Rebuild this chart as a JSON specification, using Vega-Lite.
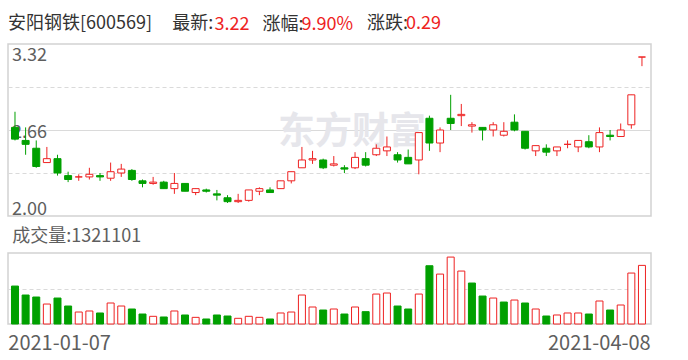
{
  "$schema": "https://vega.github.io/schema/vega-lite/v6.json",
  "background": "#ffffff",
  "padding": {"left": 7, "top": 14, "right": 0, "bottom": 0},
  "autosize": {"type": "pad"},
  "title": {"text": "0.29", "orient": "none", "anchor": "start", "dx": 398, "dy": -15, "baseline": "alphabetic", "fontSize": 18, "fontWeight": "normal", "font": "Noto Sans CJK SC", "color": "#ee2222"},
  "data": {"values": [
    {"d":"2021-01-07","o":2.68,"h":2.80,"l":2.58,"c":2.59,"v":855000},
    {"d":"2021-01-08","o":2.58,"h":2.68,"l":2.47,"c":2.55,"v":653000},
    {"d":"2021-01-11","o":2.52,"h":2.58,"l":2.37,"c":2.38,"v":608000},
    {"d":"2021-01-12","o":2.41,"h":2.53,"l":2.41,"c":2.44,"v":450000},
    {"d":"2021-01-13","o":2.44,"h":2.47,"l":2.31,"c":2.33,"v":585000},
    {"d":"2021-01-14","o":2.31,"h":2.34,"l":2.26,"c":2.28,"v":405000},
    {"d":"2021-01-15","o":2.30,"h":2.32,"l":2.27,"c":2.30,"v":270000},
    {"d":"2021-01-18","o":2.30,"h":2.37,"l":2.28,"c":2.32,"v":293000},
    {"d":"2021-01-19","o":2.31,"h":2.33,"l":2.27,"c":2.30,"v":248000},
    {"d":"2021-01-20","o":2.29,"h":2.41,"l":2.27,"c":2.34,"v":473000},
    {"d":"2021-01-21","o":2.33,"h":2.40,"l":2.30,"c":2.36,"v":405000},
    {"d":"2021-01-22","o":2.35,"h":2.36,"l":2.27,"c":2.28,"v":338000},
    {"d":"2021-01-25","o":2.27,"h":2.28,"l":2.22,"c":2.25,"v":225000},
    {"d":"2021-01-26","o":2.25,"h":2.30,"l":2.24,"c":2.26,"v":173000},
    {"d":"2021-01-27","o":2.26,"h":2.27,"l":2.21,"c":2.21,"v":158000},
    {"d":"2021-01-28","o":2.21,"h":2.33,"l":2.17,"c":2.25,"v":293000},
    {"d":"2021-01-29","o":2.25,"h":2.25,"l":2.19,"c":2.19,"v":203000},
    {"d":"2021-02-01","o":2.18,"h":2.21,"l":2.16,"c":2.21,"v":150000},
    {"d":"2021-02-02","o":2.20,"h":2.21,"l":2.18,"c":2.19,"v":113000},
    {"d":"2021-02-03","o":2.17,"h":2.20,"l":2.12,"c":2.16,"v":203000},
    {"d":"2021-02-04","o":2.14,"h":2.16,"l":2.10,"c":2.11,"v":180000},
    {"d":"2021-02-05","o":2.11,"h":2.17,"l":2.10,"c":2.12,"v":128000},
    {"d":"2021-02-08","o":2.12,"h":2.20,"l":2.11,"c":2.20,"v":173000},
    {"d":"2021-02-09","o":2.19,"h":2.22,"l":2.16,"c":2.21,"v":150000},
    {"d":"2021-02-10","o":2.20,"h":2.22,"l":2.18,"c":2.18,"v":113000},
    {"d":"2021-02-18","o":2.21,"h":2.27,"l":2.21,"c":2.27,"v":248000},
    {"d":"2021-02-19","o":2.27,"h":2.34,"l":2.25,"c":2.34,"v":270000},
    {"d":"2021-02-22","o":2.37,"h":2.53,"l":2.37,"c":2.43,"v":653000},
    {"d":"2021-02-23","o":2.43,"h":2.50,"l":2.40,"c":2.44,"v":383000},
    {"d":"2021-02-24","o":2.43,"h":2.44,"l":2.36,"c":2.37,"v":315000},
    {"d":"2021-02-25","o":2.39,"h":2.46,"l":2.38,"c":2.40,"v":338000},
    {"d":"2021-02-26","o":2.37,"h":2.39,"l":2.33,"c":2.36,"v":225000},
    {"d":"2021-03-01","o":2.37,"h":2.49,"l":2.36,"c":2.45,"v":383000},
    {"d":"2021-03-02","o":2.44,"h":2.49,"l":2.38,"c":2.39,"v":278000},
    {"d":"2021-03-03","o":2.47,"h":2.55,"l":2.46,"c":2.52,"v":675000},
    {"d":"2021-03-04","o":2.50,"h":2.61,"l":2.46,"c":2.53,"v":698000},
    {"d":"2021-03-05","o":2.47,"h":2.49,"l":2.41,"c":2.43,"v":405000},
    {"d":"2021-03-08","o":2.45,"h":2.51,"l":2.40,"c":2.40,"v":338000},
    {"d":"2021-03-09","o":2.43,"h":2.64,"l":2.32,"c":2.64,"v":675000},
    {"d":"2021-03-10","o":2.75,"h":2.77,"l":2.50,"c":2.56,"v":1313000},
    {"d":"2021-03-11","o":2.56,"h":2.68,"l":2.49,"c":2.66,"v":1125000},
    {"d":"2021-03-12","o":2.75,"h":2.93,"l":2.66,"c":2.71,"v":1508000},
    {"d":"2021-03-15","o":2.77,"h":2.86,"l":2.69,"c":2.78,"v":1193000},
    {"d":"2021-03-16","o":2.69,"h":2.72,"l":2.64,"c":2.70,"v":923000},
    {"d":"2021-03-17","o":2.68,"h":2.68,"l":2.58,"c":2.66,"v":630000},
    {"d":"2021-03-18","o":2.66,"h":2.72,"l":2.61,"c":2.70,"v":585000},
    {"d":"2021-03-19","o":2.62,"h":2.72,"l":2.61,"c":2.65,"v":495000},
    {"d":"2021-03-22","o":2.72,"h":2.78,"l":2.65,"c":2.66,"v":540000},
    {"d":"2021-03-23","o":2.65,"h":2.65,"l":2.51,"c":2.52,"v":473000},
    {"d":"2021-03-24","o":2.50,"h":2.54,"l":2.46,"c":2.54,"v":338000},
    {"d":"2021-03-25","o":2.52,"h":2.55,"l":2.46,"c":2.49,"v":180000},
    {"d":"2021-03-26","o":2.50,"h":2.53,"l":2.46,"c":2.53,"v":203000},
    {"d":"2021-03-29","o":2.55,"h":2.58,"l":2.52,"c":2.55,"v":248000},
    {"d":"2021-03-30","o":2.53,"h":2.58,"l":2.49,"c":2.58,"v":248000},
    {"d":"2021-03-31","o":2.57,"h":2.62,"l":2.52,"c":2.53,"v":225000},
    {"d":"2021-04-01","o":2.53,"h":2.68,"l":2.49,"c":2.64,"v":518000},
    {"d":"2021-04-02","o":2.62,"h":2.66,"l":2.58,"c":2.61,"v":315000},
    {"d":"2021-04-06","o":2.61,"h":2.71,"l":2.61,"c":2.66,"v":428000},
    {"d":"2021-04-07","o":2.70,"h":2.93,"l":2.67,"c":2.93,"v":1148000},
    {"d":"2021-04-08","o":3.22,"h":3.22,"l":3.15,"c":3.22,"v":1321101}
  ]},
  "spacing": 37,
  "bounds": "flush",
  "resolve": {"scale": {"x": "independent", "y": "independent"}},
  "vconcat": [
    {
      "width": 643,
      "height": 172,
      "title": {"text": "安阳钢铁[600569]\u00a0\u00a0\u00a0\u00a0\u00a0最新:", "orient": "none", "anchor": "start", "dx": 0, "dy": -15, "baseline": "alphabetic", "fontSize": 18, "fontWeight": "normal", "font": "Noto Sans CJK SC", "color": "#333333"},
      "encoding": {
        "x": {
          "field": "d", "type": "ordinal",
          "scale": {"type": "band", "paddingInner": 0, "paddingOuter": 0.254, "align": 0.31},
          "axis": {
            "orient": "top", "values": ["2021-03-01"], "labelExpr": "'东方财富'", "labelAngle": 0,
            "labelFontSize": 37, "labelFontWeight": "bold", "labelColor": "#e6e6eb", "labelFont": "Noto Sans CJK SC",
            "labelPadding": -88, "labelBaseline": "middle", "labelAlign": "center", "labelOffset": -3,
            "ticks": false, "tickSize": 0, "domain": false, "grid": false,
            "title": "3.22", "titleX": 206, "titleY": -15, "titleAlign": "left", "titleBaseline": "alphabetic", "titleAngle": 0,
            "titleColor": "#ee2222", "titleFontSize": 18, "titleFontWeight": "normal", "titleFont": "Noto Sans CJK SC"
          }
        }
      },
      "layer": [
        {
          "mark": {"type": "rule", "strokeWidth": 1},
          "encoding": {
            "y": {
              "field": "l", "type": "quantitative",
              "scale": {"domain": [2, 3.32], "nice": false, "zero": false},
              "axis": {
                "values": [2, 2.33, 2.66, 2.99, 3.32],
                "labelExpr": "datum.value == 2.33 || datum.value == 2.99 ? '' : format(datum.value, '.2f')",
                "labelFlush": true, "labelOverlap": false, "labelAlign": "left", "labelPadding": -3.5, "labelOffset": 2.5,
                "labelFontSize": 18, "labelColor": "#5e5e5e", "labelFont": "Noto Sans CJK SC",
                "ticks": false, "tickSize": 0, "domain": false,
                "grid": true, "gridColor": "#dadada", "gridWidth": 1.2,
                "gridDash": {"condition": {"test": "datum.value == 2.66", "value": []}, "value": [4, 3]},
                "gridOpacity": {"condition": {"test": "datum.value == 2 || datum.value == 3.32", "value": 0}, "value": 1},
                "title": "涨幅:", "titleAngle": 0, "titleX": 254, "titleY": -15, "titleAlign": "left", "titleBaseline": "alphabetic",
                "titleColor": "#333333", "titleFontSize": 18, "titleFontWeight": "normal", "titleFont": "Noto Sans CJK SC"
              }
            },
            "y2": {"field": "h"},
            "color": {"condition": {"test": "datum.c >= datum.o", "value": "#ee2222"}, "value": "#00a000"}
          }
        },
        {
          "mark": {"type": "bar", "width": 7, "strokeWidth": 1},
          "encoding": {
            "y": {"field": "o", "type": "quantitative", "title": "涨幅:"},
            "y2": {"field": "c"},
            "fill": {"condition": {"test": "datum.c >= datum.o", "value": "#ffffff"}, "value": "#00a000"},
            "stroke": {"condition": {"test": "datum.c >= datum.o", "value": "#ee2222"}, "value": "#00a000"}
          }
        }
      ]
    },
    {
      "width": 643,
      "height": 71,
      "title": {"text": "涨跌:", "orient": "none", "anchor": "start", "dx": 359, "dy": -224, "baseline": "alphabetic", "fontSize": 18, "fontWeight": "normal", "font": "Noto Sans CJK SC", "color": "#333333"},
      "transform": [{"window": [{"op": "lag", "field": "c", "as": "pc"}], "sort": [{"field": "d", "order": "ascending"}]}],
      "mark": {"type": "bar", "width": 7, "strokeWidth": 1},
      "encoding": {
        "x": {
          "field": "d", "type": "ordinal",
          "scale": {"type": "band", "paddingInner": 0, "paddingOuter": 0.254, "align": 0.31},
          "axis": {
            "orient": "bottom", "values": ["2021-01-07", "2021-04-08"], "labelAngle": 0,
            "labelAlign": {"condition": {"test": "datum.value == '2021-01-07'", "value": "left"}, "value": "right"},
            "labelOffset": {"condition": {"test": "datum.value == '2021-01-07'", "value": -6.7}, "value": 8.7},
            "labelBaseline": "alphabetic", "labelPadding": 25, "labelFontSize": 20, "labelColor": "#5e5e5e", "labelFont": "Noto Sans CJK SC",
            "ticks": false, "tickSize": 0, "domain": false, "grid": false,
            "title": "9.90%", "titleX": 293, "titleY": -295, "titleAlign": "left", "titleBaseline": "alphabetic", "titleAngle": 0,
            "titleColor": "#ee2222", "titleFontSize": 18, "titleFontWeight": "normal", "titleFont": "Noto Sans CJK SC"
          }
        },
        "y": {
          "field": "v", "type": "quantitative",
          "scale": {"domain": [0, 1600000], "nice": false},
          "axis": {
            "values": [800000], "labels": false, "ticks": false, "tickSize": 0, "domain": false,
            "grid": true, "gridColor": "#dadada", "gridDash": [4, 3], "gridWidth": 1.2,
            "title": "成交量:1321101", "titleX": 3.7, "titleY": -12, "titleAlign": "left", "titleBaseline": "alphabetic", "titleAngle": 0,
            "titleColor": "#5e5e5e", "titleFontSize": 18, "titleFontWeight": "normal", "titleFont": "Noto Sans CJK SC"
          }
        },
        "fill": {"condition": {"test": "datum.pc == null ? datum.c >= datum.o : datum.c > datum.pc", "value": "#ffffff"}, "value": "#00a000"},
        "stroke": {"condition": {"test": "datum.pc == null ? datum.c >= datum.o : datum.c > datum.pc", "value": "#ee2222"}, "value": "#00a000"}
      }
    }
  ],
  "config": {
    "view": {"stroke": "#d2d2d2", "strokeWidth": 1.5},
    "font": "Noto Sans CJK SC"
  }
}
